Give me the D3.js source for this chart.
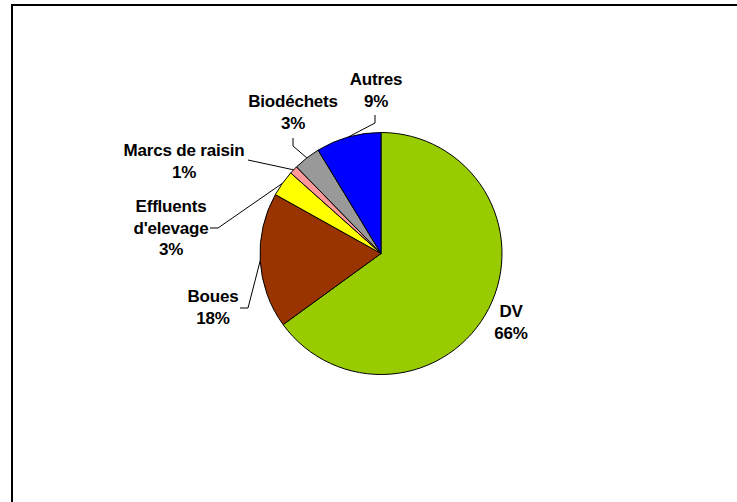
<!DOCTYPE html>
<html>
<head>
<meta charset="utf-8">
<script src="https://cdn.jsdelivr.net/npm/d3@7"></script>
<style>
  body { margin: 0; background: #fff; }
  svg { display: block; }
</style>
</head>
<body>
<div id="chart"></div>
<script>
// slices, clockwise from 12 o'clock
var categories = ["DV", "Boues", "Effluents d'elevage", "Marcs de raisin", "Biodéchets", "Autres"];
var values = [65.0, 18.1, 3.5, 1.1, 3.6, 8.7];
var pctLabels = ["66%", "18%", "3%", "1%", "3%", "9%"];
var colors = ["#99cc00", "#993300", "#ffff00", "#ff9999", "#999999", "#0000ff"];

// label layout: text lines, anchor of first baseline, elbow of leader line
var labelLines = [["DV", "66%"], ["Boues", "18%"], ["Effluents", "d'elevage", "3%"],
                  ["Marcs de raisin", "1%"], ["Biodéchets", "3%"], ["Autres", "9%"]];
var labelXY = [[511, 317], [213, 302], [171, 212], [184, 156], [293, 107], [376, 85]];
var leaderStart = [null, [240, 308], [210, 228], [248, 160], [293, 138], [375, 115]];
var leaderElbow = [null, [248, 308], [218, 228], [248, 160], [293, 146], [375, 123]];

var W = 737, H = 502;
var cx = 381, cy = 253.5, r = 121;

var svg = d3.select("#chart").append("svg")
    .attr("width", W)
    .attr("height", H);

// chart frame (runs off the right and bottom edges)
svg.append("rect")
    .attr("x", 12).attr("y", 5)
    .attr("width", 760).attr("height", 520)
    .attr("fill", "#fff")
    .attr("stroke", "#000")
    .attr("stroke-width", 2);

var pie = d3.pie().sort(null).value(function(d) { return d; });
var arcs = pie(values);
var arc = d3.arc().innerRadius(0).outerRadius(r);

var g = svg.append("g").attr("transform", "translate(" + cx + "," + cy + ")");

g.selectAll("path.slice")
  .data(arcs)
  .join("path")
    .attr("class", "slice")
    .attr("d", arc)
    .attr("fill", function(d, i) { return colors[i]; })
    .attr("stroke", "#000")
    .attr("stroke-width", 1)
    .attr("stroke-linejoin", "round");

// leader lines to the middle of each arc
var edge = d3.arc().innerRadius(r).outerRadius(r);
arcs.forEach(function(d, i) {
    if (!leaderStart[i]) return;
    var c = edge.centroid(d);
    var pts = [leaderStart[i], leaderElbow[i], [cx + c[0], cy + c[1]]];
    svg.append("path")
        .attr("d", d3.line()(pts))
        .attr("fill", "none")
        .attr("stroke", "#000")
        .attr("stroke-width", 1);
});

// labels
labelLines.forEach(function(lines, i) {
    var t = svg.append("text")
        .attr("x", labelXY[i][0])
        .attr("y", labelXY[i][1])
        .attr("text-anchor", "middle")
        .style("font-family", "Liberation Sans, Arial, sans-serif")
        .style("font-weight", "bold")
        .style("font-size", "17px")
        .style("letter-spacing", "-0.2px")
        .attr("fill", "#000");
    lines.forEach(function(s, j) {
        var isLast = j === lines.length - 1;
        t.append("tspan")
            .attr("x", labelXY[i][0])
            .attr("dy", j === 0 ? 0 : 21.5)
            .text(isLast ? pctLabels[i] : s);
    });
});
</script>
</body>
</html>
